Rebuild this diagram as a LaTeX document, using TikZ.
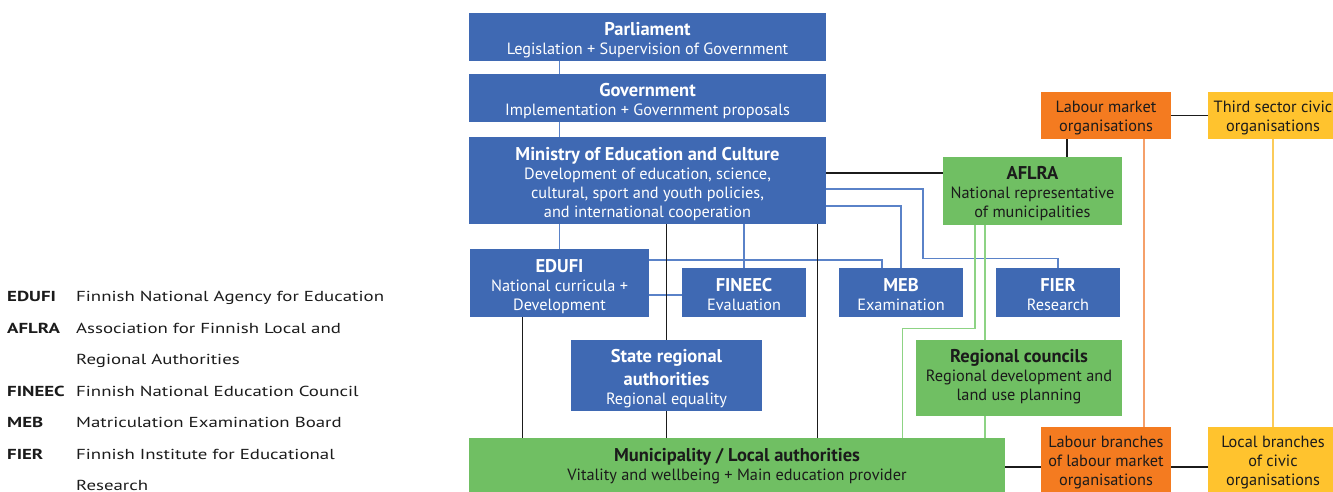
\documentclass[tikz,border=0pt]{standalone}
\usepackage{fontspec}
\setmainfont{PT Sans}
\usetikzlibrary{calc,backgrounds}

\definecolor{boxblue}{HTML}{3F69B3}
\definecolor{boxgreen}{HTML}{70BF63}
\definecolor{boxorange}{HTML}{F47B20}
\definecolor{boxyellow}{HTML}{FFC32E}
\definecolor{lineblue}{HTML}{5A82C8}
\definecolor{linegreen}{HTML}{8DD384}
\definecolor{lineorange}{HTML}{F5A06A}
\definecolor{lineyellow}{HTML}{FBCB5A}
\definecolor{ink}{HTML}{1B1B1B}

\newcommand{\ttl}[1]{{\bfseries\fontsize{18.5}{19}\selectfont #1}}
% legend text is set wide
\newcommand{\wide}[1]{\scalebox{1.3}[1]{#1}}
% struts that fix where the lines sit inside a box
\def\orgT{22pt}
\def\orgD{5pt}
\newcommand{\topS}{\rule{0pt}{\orgT}}
\newcommand{\botS}{\rule[-\orgD]{0pt}{\orgD}}

\tikzset{
  struts/.code 2 args={\def\orgT{#1}\def\orgD{#2}},
  orgbox/.style={rectangle, inner sep=0pt, align=center,
    font=\fontsize{16.3}{19}\selectfont},
  bluebox/.style={orgbox, fill=boxblue, text=white},
  greenbox/.style={orgbox, fill=boxgreen, text=ink},
  orangebox/.style={orgbox, fill=boxorange, text=ink},
  yellowbox/.style={orgbox, fill=boxyellow, text=ink},
  bline/.style={draw=lineblue, line width=1.2pt},
  kline/.style={draw=ink, line width=1.3pt},
  gline/.style={draw=linegreen, line width=1.3pt},
  oline/.style={draw=lineorange, line width=1.5pt},
  yline/.style={draw=lineyellow, line width=1.5pt},
  abbr/.style={anchor=base west, inner sep=0pt, text=ink,
    font=\bfseries\fontsize{14.5}{17}\selectfont},
  expl/.style={anchor=base west, inner sep=0pt, text=ink,
    font=\fontsize{14.5}{17}\selectfont},
}

\begin{document}
\begin{tikzpicture}[x=1pt,y=-1pt]
\useasboundingbox (0,0) rectangle (1333,492);

% ---- boxes ----
\node[bluebox, minimum width=357, minimum height=48] (parl) at (647.5,37)
  {\topS\ttl{Parliament}\\Legislation + Supervision of Government\botS};
\node[bluebox, minimum width=357, minimum height=48] (gov) at (647.5,98)
  {\topS\ttl{Government}\\Implementation + Government proposals\botS};
\node[bluebox, minimum width=357, minimum height=87] (min) at (647.5,180.5)
  {\topS\ttl{Ministry of Education and Culture}\\Development of education, science,\\cultural, sport and youth policies,\\and international cooperation\botS};
\node[bluebox, minimum width=179, minimum height=68] (edufi) at (559.5,283)
  {\topS\ttl{EDUFI}\\National curricula +\\Development\botS};
\node[bluebox, minimum width=124, minimum height=49] (fineec) at (744,292.5)
  {\topS\ttl{FINEEC}\\Evaluation\botS};
\node[bluebox, minimum width=124, minimum height=49] (meb) at (901,292.5)
  {\topS\ttl{MEB}\\Examination\botS};
\node[bluebox, minimum width=124, minimum height=49] (fier) at (1058,292.5)
  {\topS\ttl{FIER}\\Research\botS};
\node[greenbox, struts={21pt}{6pt}, minimum width=179, minimum height=68] (aflra) at (1032.5,191)
  {\topS\ttl{AFLRA}\\National representative\\of municipalities\botS};
\node[bluebox, struts={21pt}{5pt}, minimum width=191, minimum height=71] (srg) at (666.5,375.5)
  {\topS\ttl{State regional}\\[4pt]\ttl{authorities}\\Regional equality\botS};
\node[greenbox, struts={17pt}{10pt}, minimum width=206, minimum height=76] (rc) at (1019,378)
  {\topS\ttl{Regional councils}\\Regional development and\\land use planning\botS};
\node[greenbox, struts={16pt}{9pt}, minimum width=536, minimum height=58] (muni) at (737,467)
  {\topS\ttl{Municipality / Local authorities}\\Vitality and wellbeing + Main education provider\botS};
\node[orangebox, struts={20pt}{7pt}, minimum width=130, minimum height=47] (lmo) at (1106,115.5)
  {\topS Labour market\\organisations\botS};
\node[yellowbox, struts={20pt}{7pt}, minimum width=130, minimum height=47] (tso) at (1273,115.5)
  {\topS Third sector civic\\organisations\botS};
\node[orangebox, struts={17pt}{8pt}, minimum width=130, minimum height=69] (lbl) at (1106,461.5)
  {\topS Labour branches\\of labour market\\organisations\botS};
\node[yellowbox, struts={17pt}{8pt}, minimum width=130, minimum height=69] (lbc) at (1273,461.5)
  {\topS Local branches\\of civic\\organisations\botS};

% ---- legend ----
\node[abbr] (la1) at (7,301) {\wide{EDUFI}};
\node[expl] (le1) at (76,301) {\wide{Finnish National Agency for Education}};
\node[abbr] (la2) at (7,333) {\wide{AFLRA}};
\node[expl] (le2) at (76,333) {\wide{Association for Finnish Local and}};
\node[expl] (le2b) at (76,364.5) {\wide{Regional Authorities}};
\node[abbr] (la3) at (7,396) {\wide{FINEEC}};
\node[expl] (le3) at (76,396) {\wide{Finnish National Education Council}};
\node[abbr] (la4) at (7,427.5) {\wide{MEB}};
\node[expl] (le4) at (76,427.5) {\wide{Matriculation Examination Board}};
\node[abbr] (la5) at (7,459) {\wide{FIER}};
\node[expl] (le5) at (76,459) {\wide{Finnish Institute for Educational}};
\node[expl] (le5b) at (76,490.5) {\wide{Research}};

% ---- connectors, behind the boxes ----
\begin{pgfonlayer}{background}
  % chain of government
  \draw[bline] (parl.south -| edufi.north) -- (gov.north -| edufi.north);
  \draw[bline] (gov.south -| edufi.north) -- (min.north -| edufi.north);
  \draw[bline] (min.south -| edufi.north) -- (edufi.north);
  \draw[bline] (min.south -| fineec.north) -- (fineec.north);
  \draw[bline] ($(min.east)+(0,25.5)$) -| (meb.north);
  \draw[bline] ($(min.east)+(0,8.5)$) -| ($(fier.north)+(-135,-9)$) -| (fier.north);
  \draw[bline] ($(edufi.east)+(0,-23)$) -| ($(meb.north)+(-19,0)$);
  \draw[bline] ($(edufi.east)+(0,12)$) -- ($(fineec.west)+(0,2.5)$);
  % links down to the municipalities
  \draw[kline] ($(min.east)+(0,-7.5)$) -- ($(aflra.west)+(0,-18)$);
  \draw[kline] (min.south -| srg.north) -- (muni.north -| srg.north);
  \draw[kline] ($(min.south east)+(-9,0)$) coordinate (kr) -- (kr |- muni.north);
  \draw[kline] ($(edufi.south west)+(53,0)$) coordinate (kl) -- (kl |- muni.north);
  \draw[gline] ($(aflra.south)+(-47.5,0)$) coordinate (g1) -- (g1 |- muni.north);
  \draw[gline] ($(aflra.south)+(-57.5,0)$) -- ++(0,103) -| ($(muni.north east)+(-103,0)$);
  % labour market and civic organisations
  \draw[kline] ($(lmo.south)+(-39,0)$) coordinate (ka) -- (ka |- aflra.north);
  \draw[kline] (lmo.east) -- (tso.west);
  \draw[oline] ($(lmo.south)+(38,0)$) coordinate (oa) -- (oa |- lbl.north);
  \draw[yline] (tso.south) -- (lbc.north);
  \draw[kline] (muni.east) -- (muni.east -| lbl.west);
  \draw[kline] (lbl.east |- muni.east) -- (lbc.west |- muni.east);
\end{pgfonlayer}

\end{tikzpicture}
\end{document}
